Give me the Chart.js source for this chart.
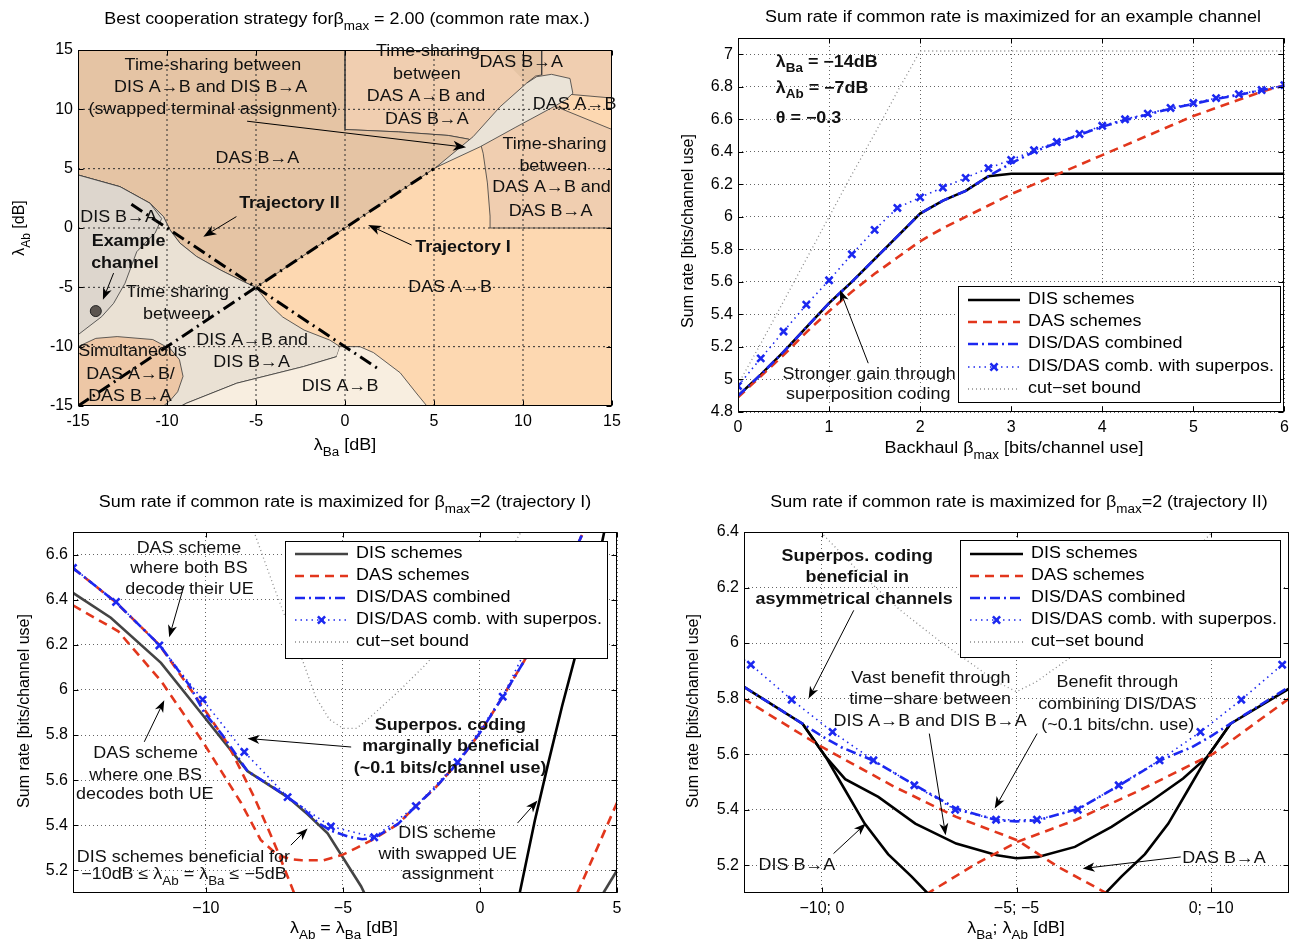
<!DOCTYPE html>
<html>
<head>
<meta charset="utf-8">
<script src="https://cdn.jsdelivr.net/npm/chart.js@4.4.1/dist/chart.umd.min.js"></script>
<style>
  html, body { margin: 0; padding: 0; background: #fff; }
  #wrap { position: relative; width: 1292px; height: 943px; overflow: hidden; }
  canvas { position: absolute; left: 0; top: 0; }
</style>
</head>
<body>
<div id="wrap">
  <canvas id="map" width="1292" height="943"></canvas>
  <canvas id="example" width="1292" height="943"></canvas>
  <canvas id="traj1" width="1292" height="943"></canvas>
  <canvas id="traj2" width="1292" height="943"></canvas>
</div>
<script>
const FONT = '"Liberation Sans", Arial, Helvetica, sans-serif';
const SX = 1.12; // the source figure's text is a bit stretched horizontally

// ---------- top left: best strategy map (x = λBa, y = λAb, dB) ----------
const mapTicks = [-15, -10, -5, 0, 5, 10, 15];
const mapTickLabels = ['-15', '-10', '-5', '0', '5', '10', '15'];
const mapGridLines = [-10, -5, 0, 5, 10];

const regDasAB_x = [-15, 15, 15, -15];
const regDasAB_y = [-15, -15, 15, 15];
const regTsDas_x = [0, 15, 15, 8.2, 8.15, 8.0, 7.76, 7.6, 6.9, 5.8, 3, 0];
const regTsDas_y = [15, 15, 0, 0, 1, 3.8, 6.3, 7.2, 7.5, 7.8, 8.1, 8.3];
const regDasBAtop_x = [8.4, 11.05, 11.05, 10.7, 10.2];
const regDasBAtop_y = [15, 15, 12.9, 12.8, 12.2];
const regDasABright_x = [12.75, 15, 15, 11.9];
const regDasABright_y = [11.25, 10.95, 8.3, 10.2];
const regDasBA_x = [-15, 0, 0, 3, 5.8, 6.9, 7.6, 5, -5, -5.7, -7.0, -8.33, -9.27, -9.83, -10.2, -10.96, -12.64, -15];
const regDasBA_y = [15, 15, 8.3, 8.1, 7.8, 7.5, 7.2, 5, -5, -4.52, -3.54, -2.41, -1.28, -0.17, 0.96, 2.09, 3.48, 4.47];
const regLens_x = [5.1, 7.2, 8.7, 10.2, 10.77, 11.6, 12.64, 12.8, 12.4, 11.7, 9.6, 7.6, 5.1];
const regLens_y = [5.1, 7.7, 10.2, 12.2, 12.75, 12.95, 12.6, 11.35, 10.8, 10.2, 8.5, 6.85, 5.1];
const regTsDis_x = [-15, -12.64, -10.96, -10.2, -9.83, -9.27, -8.33, -7.0, -5.7, -5, -4.2, -3.5, -2.3, -0.85, -0.28, -0.47, -2.34, -6.08, -8.9, -9.2, -15];
const regTsDis_y = [4.47, 3.48, 2.09, 0.96, -0.17, -1.28, -2.41, -3.54, -4.52, -5, -6.5, -7.5, -8.6, -9.45, -10.0, -10.84, -11.68, -13.08, -14.76, -15, -15];
const regDisBA_x = [-15, -12.64, -10.96, -10.3, -10.67, -11.24, -11.7, -12.36, -13.0, -13.67, -15];
const regDisBA_y = [4.47, 3.48, 2.09, 0.8, -0.44, -1.28, -2.0, -4.66, -6.35, -7.47, -9.0];
const regDisAB_x = [-0.28, 0.84, 1.6, 3.1, 4.0, 4.6, -9.2, -8.9, -6.08, -2.34, -0.47];
const regDisAB_y = [-10.0, -10.0, -10.5, -12.2, -13.9, -15, -15, -14.76, -13.08, -11.68, -10.84];
const regSimul_x = [-15, -14, -12.8, -10.8, -9.8, -9.3, -9.1, -9.4, -9.8, -10.2, -15];
const regSimul_y = [-10, -9.3, -9.15, -9.4, -10.2, -11.1, -12.5, -13.8, -14.5, -15, -15];

const traj1_x = [-15, 5];
const traj1_y = [-15, 5];
const traj2_x = [-12, 2];
const traj2_y = [2, -12];
const exampleChannel_x = [-14];
const exampleChannel_y = [-7];

// ---------- top right: sum rate vs backhaul ----------
const betaGrid = [0, 0.25, 0.5, 0.75, 1, 1.25, 1.5, 1.75, 2, 2.25, 2.5, 2.75, 3, 3.25, 3.5, 3.75, 4, 4.25, 4.5, 4.75, 5, 5.25, 5.5, 5.75, 6];
const exDis = [4.9, 5.03, 5.17, 5.32, 5.47, 5.6, 5.74, 5.88, 6.02, 6.1, 6.16, 6.25, 6.265, 6.265, 6.265, 6.265, 6.265, 6.265, 6.265, 6.265, 6.265, 6.265, 6.265, 6.265, 6.265];
const exDas = [4.89, 5.02, 5.15, 5.29, 5.42, 5.54, 5.65, 5.75, 5.85, 5.93, 6.0, 6.07, 6.14, 6.2, 6.26, 6.32, 6.38, 6.44, 6.5, 6.56, 6.62, 6.67, 6.72, 6.77, 6.81];
const exComb = [4.9, 5.03, 5.17, 5.32, 5.47, 5.6, 5.74, 5.88, 6.02, 6.1, 6.16, 6.25, 6.33, 6.4, 6.455, 6.505, 6.555, 6.595, 6.63, 6.665, 6.695, 6.725, 6.75, 6.78, 6.805];
const exSup = [4.96, 5.13, 5.295, 5.46, 5.61, 5.77, 5.92, 6.055, 6.12, 6.18, 6.24, 6.3, 6.35, 6.41, 6.46, 6.51, 6.56, 6.6, 6.635, 6.67, 6.7, 6.73, 6.755, 6.78, 6.81];
const exCut = [4.97, 5.22, 5.48, 5.74, 6.0, 6.26, 6.51, 6.77, 7.02, 7.02, 7.02, 7.02, 7.02, 7.02, 7.02, 7.02, 7.02, 7.02, 7.02, 7.02, 7.02, 7.02, 7.02, 7.02, 7.02];
const exXTicks = [0, 1, 2, 3, 4, 5, 6];
const exYTicks = [4.8, 5, 5.2, 5.4, 5.6, 5.8, 6, 6.2, 6.4, 6.6, 6.8, 7];

// ---------- bottom left: trajectory I (λAb = λBa) ----------
const t1Dis_x = [-14.85, -13.47, -11.64, -10.06, -8.48, -7.02, -6.3, -5.56, -4.34, -4.1];
const t1Dis_y = [6.43, 6.32, 6.12, 5.88, 5.64, 5.525, 5.45, 5.365, 5.13, 5.07];
const t1DisEnd_x = [4.45, 5.0];
const t1DisEnd_y = [5.09, 5.2];
const t1Swap_x = [1.45, 2.0, 2.5, 3.0, 3.5, 4.0, 4.55];
const t1Swap_y = [5.1, 5.42, 5.68, 5.93, 6.16, 6.39, 6.71];
const t1DasBoth_x = [-14.85, -13.3, -11.7, -10.2, -9.2, -8.24, -7.75, -7.4, -6.75];
const t1DasBoth_y = [6.54, 6.39, 6.2, 5.94, 5.76, 5.525, 5.39, 5.29, 5.09];
const t1DasOne_x = [-14.85, -13.2, -11.64, -10.06, -8.72, -8.0, -7.4, -6.9, -6.5, -5.7, -5.0, -4.5, -3.86, -3.0, -2.34, -1.6, -0.82, 0, 0.83, 1.62, 2.5, 3.2, 3.85];
const t1DasOne_y = [6.375, 6.26, 6.04, 5.76, 5.5, 5.335, 5.27, 5.25, 5.245, 5.245, 5.27, 5.3, 5.34, 5.405, 5.485, 5.57, 5.676, 5.81, 5.97, 6.13, 6.36, 6.55, 6.72];
const t1DasSwap_x = [3.55, 4.3, 5.0];
const t1DasSwap_y = [5.1, 5.305, 5.5];
const t1Comb_x = [-14.85, -13.3, -11.7, -10.6, -10.06, -9.4, -8.48, -7.5, -7.02, -6.5, -5.9, -5.4, -4.8, -4.3, -3.86, -3.0, -2.34, -1.6, -0.82, 0, 0.83, 1.62, 2.5, 3.2, 3.85];
const t1Comb_y = [6.54, 6.39, 6.2, 6.02, 5.9, 5.8, 5.64, 5.565, 5.525, 5.48, 5.41, 5.375, 5.35, 5.338, 5.345, 5.405, 5.485, 5.57, 5.676, 5.81, 5.97, 6.13, 6.36, 6.55, 6.72];
const t1Sup_x = [-14.85, -13.28, -11.7, -10.12, -8.6, -7.02, -5.44, -3.86, -2.34, -0.82, 0.83, 2.4, 3.95];
const t1Sup_y = [6.541, 6.39, 6.197, 5.957, 5.725, 5.525, 5.395, 5.347, 5.485, 5.68, 5.97, 6.36, 6.75];
const t1Cut_x = [-8.3, -7.5, -7.0, -6.5, -6.0, -5.5, -5.0, -4.5, -4.0, -3.0, -2.0, -1.0, 0, 1.0, 1.6];
const t1Cut_y = [6.72, 6.45, 6.29, 6.14, 5.97, 5.87, 5.83, 5.83, 5.88, 5.99, 6.11, 6.25, 6.42, 6.6, 6.72];
const t1XTicks = [-10, -5, 0, 5];
const t1XLabels = ['\u221210', '\u22125', '0', '5'];
const t1YTicks = [5.2, 5.4, 5.6, 5.8, 6, 6.2, 6.4, 6.6];

// ---------- bottom right: trajectory II (λAb = -10 - λBa), x = λBa ----------
const t2DisL_x = [-12, -10.5, -9.9, -9.4, -8.9, -8.3, -7.7, -7.29, -7.0];
const t2DisL_y = [5.842, 5.71, 5.59, 5.47, 5.35, 5.24, 5.16, 5.1, 5.06];
const t2DisR_x = [2, 0.5, -0.1, -0.6, -1.1, -1.7, -2.3, -2.71, -3.0];
const t2DisR_y = [5.836, 5.71, 5.59, 5.47, 5.35, 5.24, 5.16, 5.1, 5.06];
const t2DisTs_x = [-10.5, -9.9, -9.4, -8.55, -7.6, -6.55, -5.5, -5.0, -4.45, -3.5, -2.56, -1.51, -0.72, -0.1, 0.5];
const t2DisTs_y = [5.71, 5.59, 5.51, 5.446, 5.35, 5.278, 5.236, 5.225, 5.23, 5.266, 5.338, 5.434, 5.512, 5.59, 5.71];
const t2DasA_x = [-12.02, -10, -8.13, -6.55, -4.98, -3.93, -2.67, -2.5];
const t2DasA_y = [5.8, 5.626, 5.482, 5.374, 5.29, 5.194, 5.098, 5.08];
const t2DasB_x = [2, 0.06, -1.83, -3.5, -4.98, -6.03, -7.29, -7.5];
const t2DasB_y = [5.8, 5.602, 5.47, 5.362, 5.284, 5.206, 5.098, 5.08];
const t2Comb_x = [-12, -10.5, -10, -9.5, -8.7, -7.6, -6.55, -5.5, -5.0, -4.45, -3.4, -2.35, -1.3, -0.5, 0, 0.5, 2];
const t2Comb_y = [5.842, 5.71, 5.665, 5.625, 5.578, 5.488, 5.404, 5.362, 5.358, 5.362, 5.404, 5.488, 5.578, 5.625, 5.665, 5.71, 5.842];
const t2Sup_x = [-12, -11.825, -10.775, -9.725, -8.675, -7.625, -6.575, -5.525, -4.475, -3.425, -2.375, -1.325, -0.275, 0.775, 1.825, 2];
const t2Sup_y = [5.94, 5.922, 5.796, 5.68, 5.578, 5.488, 5.4, 5.364, 5.364, 5.4, 5.488, 5.578, 5.68, 5.796, 5.922, 5.94];
const t2Cut_x = [-10.1, -9, -8, -7, -6, -5.5, -5, -4.5, -4, -3, -2, -1, 0.1];
const t2Cut_y = [6.41, 6.25, 6.12, 6.01, 5.91, 5.86, 5.825, 5.86, 5.91, 6.01, 6.12, 6.25, 6.41];
const t2XTicks = [-10, -5, 0];
const t2XLabels = ['\u221210; 0', '\u22125; \u22125', '0; \u221210'];
const t2YTicks = [5.2, 5.4, 5.6, 5.8, 6, 6.2, 6.4];

// ---------- helpers ----------
function pts(xs, ys) { return xs.map((x, i) => ({ x: x, y: ys[i] })); }

const ST = {
  dis: { borderColor: '#000', borderWidth: 2.6 },
  disGray: { borderColor: '#444', borderWidth: 2.6 },
  das: { borderColor: '#e2361c', borderWidth: 2.6, borderDash: [9, 6] },
  comb: { borderColor: '#1c28f0', borderWidth: 2.6, borderDash: [10, 4, 2, 4] },
  sup: { borderColor: '#1c28f0', borderWidth: 1.6, borderDash: [1.5, 4] },
  cut: { borderColor: '#8a8a8a', borderWidth: 1.3, borderDash: [1, 3] }
};

function lineDs(xs, ys, style, order, extra) {
  return Object.assign({ data: pts(xs, ys), pointRadius: 0, fill: false, tension: 0, order: order }, style, extra || {});
}
function supDs(xs, ys, order, markerIdx) {
  return lineDs(xs, ys, ST.sup, order, {
    pointStyle: 'crossRot',
    pointRadius: (c) => (markerIdx && !markerIdx(c.dataIndex) ? 0 : 5),
    pointBorderWidth: 2.6, pointBorderColor: '#1c28f0', pointBackgroundColor: '#1c28f0'
  });
}
function regionDs(xs, ys, color, order) {
  return { data: pts(xs, ys), fill: 'shape', backgroundColor: color, borderColor: '#3a3a3a', borderWidth: 0.8, pointRadius: 0, tension: 0, order: order };
}
// grid lines of the strategy map: drawn as datasets so they sit above the filled regions
function gridDs(v, vertical) {
  const xs = vertical ? [v, v] : [-15, 15];
  const ys = vertical ? [-15, 15] : [v, v];
  return lineDs(xs, ys, { borderColor: '#2e2e2e', borderWidth: 1, borderDash: [2, 3] }, 3);
}

function scale(min, max, ticks, labels, isX, gridOff) {
  return {
    type: 'linear', min: min, max: max,
    afterBuildTicks: (s) => { s.ticks = ticks.map((v) => ({ value: v })); },
    afterFit: (s) => {
      if (isX) s.height = 30; else s.width = 50;
      s.paddingLeft = 0; s.paddingRight = 0; s.paddingTop = 0; s.paddingBottom = 0;
    },
    ticks: {
      autoSkip: false, maxRotation: 0, padding: isX ? 6 : 5, color: '#000',
      font: { family: FONT, size: 16 },
      callback: (v, i) => labels[i]
    },
    grid: { display: !gridOff, color: '#3c3c3c', lineWidth: 0.8, drawTicks: false },
    border: { display: false, dash: [1, 3] }
  };
}

function parseRich(s) {
  const parts = [];
  const re = /_\{([^}]*)\}/g;
  let last = 0, m;
  while ((m = re.exec(s))) {
    if (m.index > last) parts.push({ t: s.slice(last, m.index), sub: false });
    parts.push({ t: m[1], sub: true });
    last = re.lastIndex;
  }
  if (last < s.length) parts.push({ t: s.slice(last), sub: false });
  return parts;
}

function drawRich(ctx, s, x, y, opt) {
  opt = opt || {};
  const size = opt.size || 16;
  const sx = opt.sx == null ? SX : opt.sx;
  const w = opt.bold ? 'bold ' : '';
  const big = w + size + 'px ' + FONT;
  const small = w + Math.round(size * 0.72) + 'px ' + FONT;
  const parts = parseRich(s);
  let total = 0;
  for (const p of parts) { ctx.font = p.sub ? small : big; p.w = ctx.measureText(p.t).width; total += p.w; }
  const align = opt.align || 'center';
  let cx = align === 'left' ? 0 : align === 'right' ? -total : -total / 2;
  ctx.save();
  ctx.translate(x, y);
  if (opt.rot) ctx.rotate(opt.rot);
  ctx.scale(sx, 1);
  ctx.textAlign = 'left';
  ctx.textBaseline = 'middle';
  for (const p of parts) {
    ctx.font = p.sub ? small : big;
    ctx.fillText(p.t, cx, p.sub ? size * 0.4 : 0);
    cx += p.w;
  }
  ctx.restore();
}

function drawArrow(ctx, x1, y1, x2, y2, head) {
  const a = Math.atan2(y2 - y1, x2 - x1), c = Math.cos(a), s = Math.sin(a);
  ctx.beginPath();
  ctx.moveTo(x1, y1);
  ctx.lineTo(x2 - c * head * 0.6, y2 - s * head * 0.6);
  ctx.stroke();
  ctx.beginPath();
  ctx.moveTo(x2, y2);
  ctx.lineTo(x2 - head * c + head * 0.38 * s, y2 - head * s - head * 0.38 * c);
  ctx.lineTo(x2 - head * 0.72 * c, y2 - head * 0.72 * s);
  ctx.lineTo(x2 - head * c - head * 0.38 * s, y2 - head * s + head * 0.38 * c);
  ctx.closePath();
  ctx.fill();
}

function drawCross(ctx, x, y, r) {
  ctx.beginPath();
  ctx.moveTo(x - r, y - r); ctx.lineTo(x + r, y + r);
  ctx.moveTo(x - r, y + r); ctx.lineTo(x + r, y - r);
  ctx.stroke();
}

const decorPlugin = {
  id: 'decor',
  afterDraw(chart, args, o) {
    const ctx = chart.ctx, a = chart.chartArea;
    const xs = chart.scales.x, ys = chart.scales.y;
    ctx.save();
    ctx.setLineDash([]);
    // frame and inward ticks
    ctx.strokeStyle = '#000';
    ctx.lineWidth = 1;
    const L = Math.round(a.left) + 0.5, T = Math.round(a.top) + 0.5, R = Math.round(a.right) - 0.5, B = Math.round(a.bottom) - 0.5;
    ctx.strokeRect(L, T, R - L, B - T);
    ctx.beginPath();
    xs.ticks.forEach((t) => {
      const px = Math.round(xs.getPixelForValue(t.value)) + 0.5;
      ctx.moveTo(px, B); ctx.lineTo(px, B - 5);
      ctx.moveTo(px, T); ctx.lineTo(px, T + 5);
    });
    ys.ticks.forEach((t) => {
      const py = Math.round(ys.getPixelForValue(t.value)) + 0.5;
      ctx.moveTo(L, py); ctx.lineTo(L + 5, py);
      ctx.moveTo(R, py); ctx.lineTo(R - 5, py);
    });
    ctx.stroke();

    // arrows
    ctx.strokeStyle = '#000';
    ctx.fillStyle = '#000';
    ctx.lineWidth = 1;
    (o.arrows || []).forEach((r) => {
      drawArrow(ctx, xs.getPixelForValue(r[0]), ys.getPixelForValue(r[1]), xs.getPixelForValue(r[2]), ys.getPixelForValue(r[3]), r[4] || 11);
    });

    // annotation texts
    ctx.fillStyle = '#111';
    (o.texts || []).forEach((t) => {
      const f = t[3] || '';
      drawRich(ctx, t[2], xs.getPixelForValue(t[0]), ys.getPixelForValue(t[1]), {
        bold: f.indexOf('b') >= 0, align: f.indexOf('l') >= 0 ? 'left' : 'center'
      });
    });

    // legend
    if (o.legend) {
      const g = o.legend, bx = g.box;
      ctx.fillStyle = '#fff';
      ctx.fillRect(bx[0], bx[1], bx[2] - bx[0], bx[3] - bx[1]);
      ctx.strokeStyle = '#000';
      ctx.lineWidth = 1;
      ctx.strokeRect(bx[0] + 0.5, bx[1] + 0.5, bx[2] - bx[0], bx[3] - bx[1]);
      const items = [
        ['DIS schemes', g.dis],
        ['DAS schemes', ST.das],
        ['DIS/DAS combined', ST.comb],
        ['DIS/DAS comb. with superpos.', ST.sup, true],
        ['cut\u2212set bound', ST.cut]
      ];
      items.forEach((it, i) => {
        const y = g.rows[i];
        const st = it[1];
        ctx.strokeStyle = st.borderColor;
        ctx.lineWidth = st.borderWidth;
        ctx.setLineDash(st.borderDash || []);
        ctx.beginPath(); ctx.moveTo(g.x1, y); ctx.lineTo(g.x2, y); ctx.stroke();
        ctx.setLineDash([]);
        if (it[2]) { ctx.lineWidth = 2.6; drawCross(ctx, (g.x1 + g.x2) / 2, y, 3.6); }
        ctx.fillStyle = '#000';
        drawRich(ctx, it[0], g.tx, y, { align: 'left' });
      });
    }

    // titles
    ctx.fillStyle = '#000';
    if (o.title) drawRich(ctx, o.title[0], o.title[1], o.title[2]);
    if (o.xTitle) drawRich(ctx, o.xTitle[0], o.xTitle[1], o.xTitle[2]);
    if (o.yTitle) drawRich(ctx, o.yTitle[0], o.yTitle[1], o.yTitle[2], { rot: -Math.PI / 2, sx: 1 });
    ctx.restore();
  }
};

function options(padding, xScale, yScale, decor) {
  return {
    responsive: false, animation: false, events: [],
    layout: { padding: padding },
    plugins: { legend: { display: false }, tooltip: { enabled: false }, decor: decor },
    scales: { x: xScale, y: yScale }
  };
}

// ---------- chart 1: strategy map ----------
new Chart(document.getElementById('map'), {
  type: 'line',
  plugins: [decorPlugin],
  data: {
    datasets: [
      regionDs(regDasAB_x, regDasAB_y, '#fdd8b1', 100),
      regionDs(regTsDas_x, regTsDas_y, '#f0ceb0', 99),
      regionDs(regDasBAtop_x, regDasBAtop_y, '#e5c4a4', 98),
      regionDs(regDasABright_x, regDasABright_y, '#fdd8b1', 97),
      regionDs(regDasBA_x, regDasBA_y, '#e5c4a4', 96),
      regionDs(regLens_x, regLens_y, '#eae3d7', 95),
      regionDs(regTsDis_x, regTsDis_y, '#eae1d4', 94),
      regionDs(regDisBA_x, regDisBA_y, '#ddd6cd', 93),
      regionDs(regDisAB_x, regDisAB_y, '#f8eee0', 92),
      regionDs(regSimul_x, regSimul_y, '#edc7a6', 91)
    ].concat(
      mapGridLines.map((v) => gridDs(v, true)),
      mapGridLines.map((v) => gridDs(v, false)),
      [
        lineDs(traj1_x, traj1_y, { borderColor: '#000', borderWidth: 3, borderDash: [13, 5, 2, 5] }, 2),
        lineDs(traj2_x, traj2_y, { borderColor: '#000', borderWidth: 3, borderDash: [13, 5, 2, 5] }, 2),
        lineDs(exampleChannel_x, exampleChannel_y, { borderColor: '#222', showLine: false }, 1,
          { pointRadius: 5.5, pointBackgroundColor: '#5b5550', pointBorderColor: '#222', pointBorderWidth: 1 })
      ]
    )
  },
  options: options(
    { left: 28, top: 50, right: 680, bottom: 507 },
    scale(-15, 15, mapTicks, mapTickLabels, true, true),
    scale(-15, 15, mapTicks, mapTickLabels, false, true),
    {
      title: ['Best cooperation strategy for\u03b2_{max} = 2.00 (common rate max.)', 347, 20],
      xTitle: ['\u03bb_{Ba} [dB]', 345, 446],
      yTitle: ['\u03bb_{Ab} [dB]', 20, 228],
      texts: [
        [-7.42, 13.65, 'Time-sharing between'],
        [-7.55, 11.8, 'DIS A\u2192B and DIS B\u2192A'],
        [-7.42, 9.95, '(swapped terminal assignment)'],
        [-4.92, 5.82, 'DAS B\u2192A'],
        [4.66, 14.83, 'Time-sharing'],
        [4.6, 12.9, 'between'],
        [4.55, 11.04, 'DAS A\u2192B and'],
        [4.6, 9.1, 'DAS B\u2192A'],
        [9.9, 13.9, 'DAS B\u2192A'],
        [12.9, 10.37, 'DAS A\u2192B'],
        [11.77, 7.0, 'Time-sharing'],
        [11.7, 5.14, 'between'],
        [11.6, 3.37, 'DAS A\u2192B and'],
        [11.55, 1.35, 'DAS B\u2192A'],
        [-12.72, 0.85, 'DIS B\u2192A'],
        [-12.16, -1.18, 'Example', 'b'],
        [-12.36, -3.03, 'channel', 'b'],
        [-3.12, 2.03, 'Trajectory II', 'b'],
        [6.63, -1.68, 'Trajectory I', 'b'],
        [-9.41, -5.47, 'Time sharing'],
        [-9.44, -7.33, 'between'],
        [-5.22, -9.52, 'DIS A\u2192B and'],
        [-5.25, -11.37, 'DIS B\u2192A'],
        [-11.94, -10.44, 'Simultaneous'],
        [-12.05, -12.38, 'DAS A\u2192B/'],
        [-12.08, -14.23, 'DAS B\u2192A'],
        [-0.28, -13.39, 'DIS A\u2192B'],
        [5.9, -5.05, 'DAS A\u2192B']
      ],
      arrows: [
        [-5.5, 9.0, 6.8, 6.8, 13],
        [-6.1, 0.96, -7.96, -0.73, 13],
        [3.74, -1.43, 1.3, 0.26, 13],
        [-13.0, -3.8, -13.6, -6.05, 12]
      ]
    }
  )
});

// ---------- chart 2: example channel ----------
new Chart(document.getElementById('example'), {
  type: 'line',
  plugins: [decorPlugin],
  data: {
    datasets: [
      lineDs(betaGrid, exCut, ST.cut, 6),
      lineDs(betaGrid, exDis, ST.dis, 5),
      lineDs(betaGrid, exDas, ST.das, 4),
      lineDs(betaGrid, exComb, ST.comb, 3),
      supDs(betaGrid, exSup, 2)
    ]
  },
  options: options(
    { left: 688, top: 38, right: 5, bottom: 501 },
    scale(0, 6, exXTicks, exXTicks.map(String), true),
    scale(4.8, 7.1, exYTicks, exYTicks.map(String), false),
    {
      title: ['Sum rate if common rate is maximized for an example channel', 1013, 18],
      xTitle: ['Backhaul \u03b2_{max} [bits/channel use]', 1014, 449],
      yTitle: ['Sum rate [bits/channel use]', 689, 231],
      texts: [
        [0.415, 6.95, '\u03bb_{Ba} = \u221214dB', 'bl'],
        [0.415, 6.79, '\u03bb_{Ab} = \u22127dB', 'bl'],
        [0.415, 6.606, '\u03b8 = \u22120.3', 'bl'],
        [1.44, 5.03, 'Stronger gain through'],
        [1.43, 4.907, 'superposition coding']
      ],
      arrows: [[1.43, 5.1, 1.12, 5.55, 12]],
      legend: { box: [958, 286, 1280, 402], x1: 968, x2: 1020, tx: 1028, rows: [300, 322, 344, 367, 389], dis: ST.dis }
    }
  )
});

// ---------- chart 3: trajectory I ----------
new Chart(document.getElementById('traj1'), {
  type: 'line',
  plugins: [decorPlugin],
  data: {
    datasets: [
      lineDs(t1Cut_x, t1Cut_y, ST.cut, 6),
      lineDs(t1Dis_x, t1Dis_y, ST.disGray, 5),
      lineDs(t1DisEnd_x, t1DisEnd_y, ST.disGray, 5),
      lineDs(t1Swap_x, t1Swap_y, ST.dis, 5),
      lineDs(t1DasBoth_x, t1DasBoth_y, ST.das, 4),
      lineDs(t1DasOne_x, t1DasOne_y, ST.das, 4),
      lineDs(t1DasSwap_x, t1DasSwap_y, ST.das, 4),
      lineDs(t1Comb_x, t1Comb_y, ST.comb, 3),
      supDs(t1Sup_x, t1Sup_y, 2)
    ]
  },
  options: options(
    { left: 23, top: 532, right: 675, bottom: 20 },
    scale(-14.85, 5, t1XTicks, t1XLabels, true),
    scale(5.1, 6.7, t1YTicks, t1YTicks.map(String), false),
    {
      title: ['Sum rate if common rate is maximized for \u03b2_{max}=2 (trajectory I)', 345, 503],
      xTitle: ['\u03bb_{Ab} = \u03bb_{Ba} [dB]', 344, 929],
      yTitle: ['Sum rate [bits/channel use]', 25, 711],
      texts: [
        [-10.62, 6.627, 'DAS scheme'],
        [-10.62, 6.538, 'where both BS'],
        [-10.6, 6.445, 'decode their UE'],
        [-12.2, 5.72, 'DAS scheme'],
        [-12.2, 5.622, 'where one BS'],
        [-12.23, 5.534, 'decodes both UE'],
        [-1.08, 5.843, 'Superpos. coding', 'b'],
        [-1.06, 5.75, 'marginally beneficial', 'b'],
        [-1.09, 5.653, '(~0.1 bits/channel use)', 'b'],
        [-1.2, 5.365, 'DIS scheme'],
        [-1.18, 5.272, 'with swapped UE'],
        [-1.18, 5.18, 'assignment'],
        [-10.82, 5.259, 'DIS schemes beneficial for'],
        [-10.8, 5.18, '\u221210dB \u2264 \u03bb_{Ab} = \u03bb_{Ba} \u2264 \u22125dB']
      ],
      arrows: [
        [-10.8, 6.463, -11.34, 6.234, 12],
        [-12.25, 5.77, -11.52, 5.954, 12],
        [-4.7, 5.747, -8.48, 5.785, 12],
        [1.37, 5.41, 2.1, 5.51, 12],
        [-6.9, 5.312, -6.29, 5.386, 12]
      ],
      legend: { box: [285, 541, 607, 658], x1: 295, x2: 348, tx: 356, rows: [554, 576, 598, 620, 642], dis: ST.disGray }
    }
  )
});

// ---------- chart 4: trajectory II ----------
new Chart(document.getElementById('traj2'), {
  type: 'line',
  plugins: [decorPlugin],
  data: {
    datasets: [
      lineDs(t2Cut_x, t2Cut_y, ST.cut, 6),
      lineDs(t2DisL_x, t2DisL_y, ST.dis, 5),
      lineDs(t2DisR_x, t2DisR_y, ST.dis, 5),
      lineDs(t2DisTs_x, t2DisTs_y, ST.dis, 5),
      lineDs(t2DasA_x, t2DasA_y, ST.das, 4),
      lineDs(t2DasB_x, t2DasB_y, ST.das, 4),
      lineDs(t2Comb_x, t2Comb_y, ST.comb, 3),
      supDs(t2Sup_x, t2Sup_y, 2, (i) => i > 0 && i < t2Sup_x.length - 1)
    ]
  },
  options: options(
    { left: 694, top: 532, right: 3, bottom: 20 },
    scale(-12, 2, t2XTicks, t2XLabels, true),
    scale(5.1, 6.4, t2YTicks, t2YTicks.map(String), false),
    {
      title: ['Sum rate if common rate is maximized for \u03b2_{max}=2 (trajectory II)', 1019, 503],
      xTitle: ['\u03bb_{Ba}; \u03bb_{Ab} [dB]', 1016, 929],
      yTitle: ['Sum rate [bits/channel use]', 694, 711],
      texts: [
        [-9.09, 6.312, 'Superpos. coding', 'b'],
        [-9.09, 6.237, 'beneficial in', 'b'],
        [-9.17, 6.158, 'asymmetrical channels', 'b'],
        [-7.2, 5.873, 'Vast benefit through'],
        [-7.22, 5.798, 'time\u2212share between'],
        [-7.22, 5.718, 'DIS A\u2192B and DIS B\u2192A'],
        [-2.41, 5.859, 'Benefit through'],
        [-2.41, 5.78, 'combining DIS/DAS'],
        [-2.4, 5.704, '(~0.1 bits/chn. use)'],
        [-10.64, 5.2, 'DIS B\u2192A'],
        [0.33, 5.225, 'DAS B\u2192A']
      ],
      arrows: [
        [-9.18, 6.118, -10.34, 5.8, 12],
        [-7.24, 5.674, -6.82, 5.308, 12],
        [-4.47, 5.674, -5.56, 5.404, 12],
        [-9.7, 5.242, -8.87, 5.35, 12],
        [-0.78, 5.23, -3.3, 5.188, 12]
      ],
      legend: { box: [960, 540, 1280, 657], x1: 970, x2: 1023, tx: 1031, rows: [554, 576, 598, 620, 642], dis: ST.dis }
    }
  )
});
</script>
</body>
</html>
